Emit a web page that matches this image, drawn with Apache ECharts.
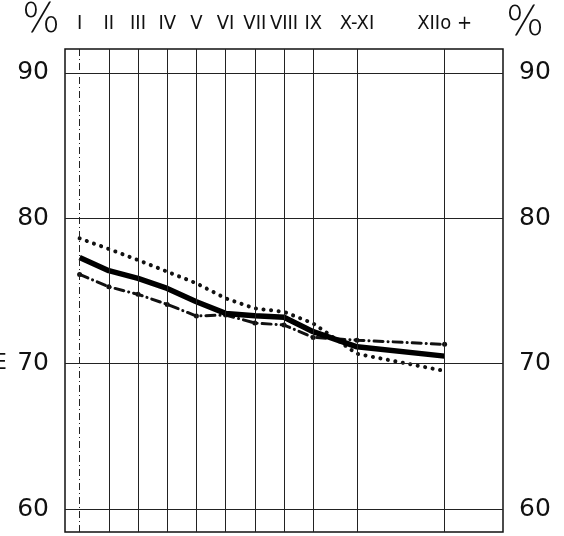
<!DOCTYPE html>
<html>
<head>
<meta charset="utf-8">
<script src="https://cdn.jsdelivr.net/npm/echarts@6/dist/echarts.min.js"></script>
<style>
html,body{margin:0;padding:0;background:#fff;}
#c{width:564px;height:536px;}
</style>
</head>
<body>
<div id="c"></div>
<script>
const xLabels = ['I','II','III','IV','V','VI','VII','VIII','IX','X-XI','XIIo +'];
const xPositions = [1,2,3,4,5,6,7,8,9,10.5,13.5];
const yTicks = [60,70,80,90];
const solidValues = [77.3,76.4,75.87,75.18,74.26,73.46,73.3,73.19,72.2,71.16,70.52];
const dottedValues = [78.62,77.89,77.13,76.33,75.53,74.5,73.8,73.57,72.77,70.68,69.5];
const dashDotValues = [76.14,75.29,74.77,74.08,73.28,73.35,72.8,72.66,71.81,71.62,71.33];

const pairs = vals => vals.map((v,i)=>[xPositions[i], v]);
const chart = echarts.init(document.getElementById('c'), null, {renderer:'canvas'});

const yAxisBase = {
  type:'value', min:58.42, max:91.65,
  axisLine:{show:false}, axisTick:{show:false}, splitLine:{show:false},
  axisLabel:{customValues:yTicks, fontSize:25, color:'#111', margin:16, fontFamily:'DejaVu Sans'}
};

chart.setOption({
  animation:false,
  backgroundColor:'#fff',
  grid:{left:65,right:61,top:49,bottom:4,show:true,borderColor:'#111',borderWidth:1.5,backgroundColor:'transparent'},
  xAxis:{
    type:'value', position:'top', min:0.5, max:15.5,
    axisLine:{show:false}, axisTick:{show:false}, splitLine:{show:false},
    axisLabel:{customValues:xPositions, margin:15, fontSize:20, color:'#111',
      fontFamily:'"DejaVu Sans Condensed", "Liberation Sans Narrow", "Liberation Sans", sans-serif',
      formatter:v=>xLabels[xPositions.indexOf(v)]}
  },
  yAxis:[Object.assign({position:'left'}, yAxisBase), Object.assign({position:'right'}, yAxisBase)],
  graphic:[
    {type:'text', left:22, top:2, style:{text:'%', fontSize:40, fill:'#111', fontFamily:'DejaVu Sans', fontWeight:'lighter'}},
    {type:'text', left:506, top:5, style:{text:'%', fontSize:40, fill:'#111', fontFamily:'DejaVu Sans', fontWeight:'lighter'}},
    {type:'text', left:-7, top:352, style:{text:'E', fontSize:22, fill:'#111', fontFamily:'DejaVu Sans'}}
  ],
  series:[
    {
      type:'line', name:'grid', data:pairs(solidValues), symbol:'none', lineStyle:{opacity:0}, silent:true, z:1,
      markLine:{
        silent:true, symbol:'none', label:{show:false},
        lineStyle:{color:'#222', width:1, type:'solid'},
        data: yTicks.map(v=>({yAxis:v})).concat(
          xPositions.map((v,i)=> i===0 ? {xAxis:v, lineStyle:{type:[7,3,1,3], color:'#222', width:1}} : {xAxis:v}))
      }
    },
    {
      type:'line', name:'dotted', data:pairs(dottedValues), symbol:'none', z:3,
      lineStyle:{color:'#111', width:4, type:[0.1,7.5], cap:'round'}
    },
    {
      type:'line', name:'dashdot', data:pairs(dashDotValues), symbol:'circle', symbolSize:5, z:3,
      itemStyle:{color:'#111'},
      lineStyle:{color:'#111', width:3, type:[9,5,0.1,5], cap:'round'}
    },
    {
      type:'line', name:'solid', data:pairs(solidValues), symbol:'none', z:4,
      lineStyle:{color:'#000', width:5.5}
    }
  ]
});
</script>
</body>
</html>
